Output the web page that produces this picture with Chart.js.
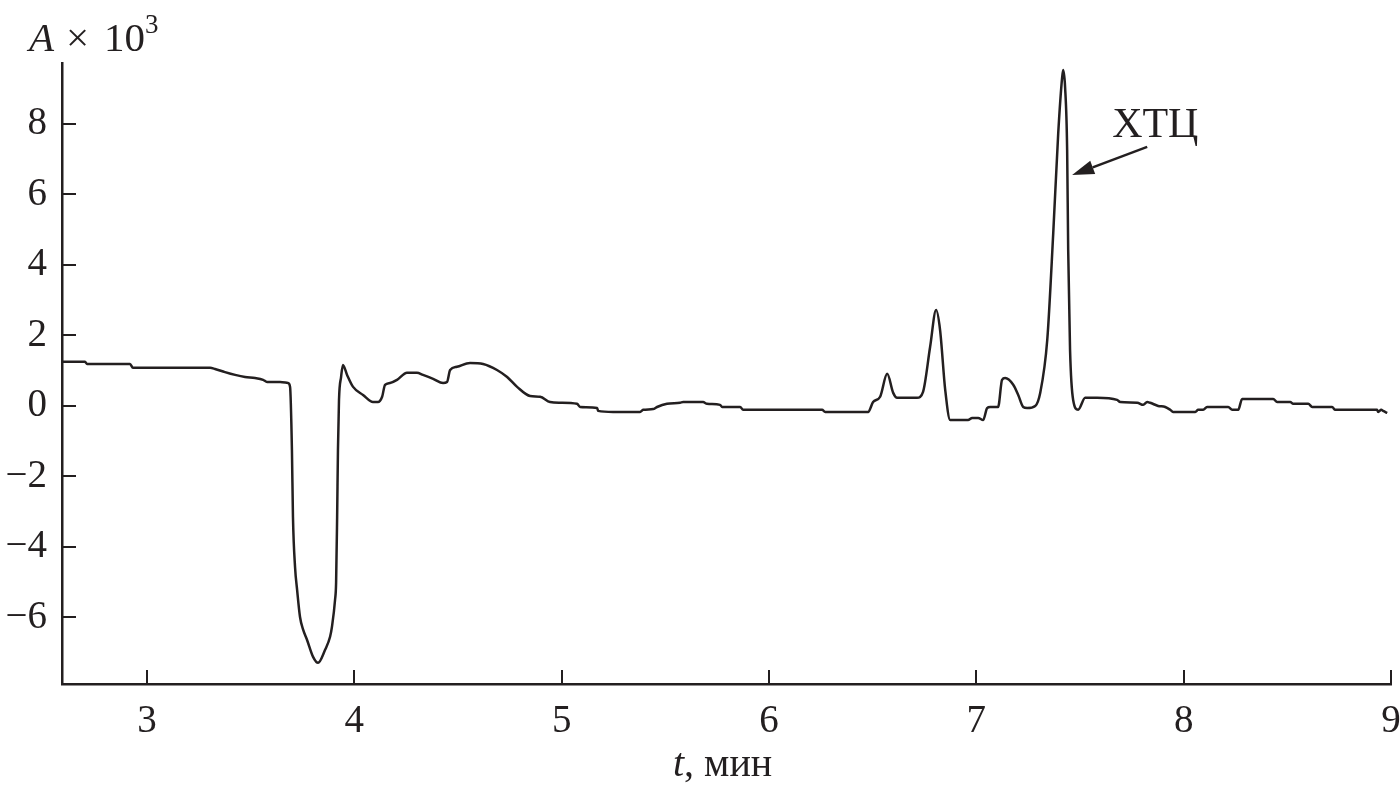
<!DOCTYPE html>
<html>
<head>
<meta charset="utf-8">
<script src="https://cdn.jsdelivr.net/npm/chart.js@4.4.1/dist/chart.umd.min.js"></script>
<style>
  html, body { margin: 0; padding: 0; background: #fff; }
  #wrap { width: 1400px; height: 791px; }
</style>
</head>
<body>
<div id="wrap"><canvas id="chart" width="1400" height="791"></canvas></div>
<script>
// retention time, min
const times = [
  2.590, 2.701, 2.711, 2.918, 2.932, 3.304, 3.328, 3.376, 3.425, 3.473, 3.521, 3.560, 3.579, 3.642, 3.680,
  3.690, 3.699, 3.704, 3.714, 3.724, 3.738, 3.753, 3.772, 3.801, 3.825, 3.859, 3.883, 3.892, 3.907, 3.912,
  3.917, 3.921, 3.926, 3.936,
  3.945, 3.965, 3.994, 4.042, 4.090, 4.114, 4.134, 4.148, 4.172, 4.206, 4.254, 4.302, 4.331, 4.380, 4.428,
  4.447, 4.462, 4.495, 4.558, 4.621, 4.688, 4.737, 4.785, 4.848, 4.896, 4.944, 4.992, 5.074, 5.089, 5.171,
  5.176, 5.248, 5.378, 5.393, 5.441, 5.460, 5.508, 5.571, 5.586, 5.682, 5.701, 5.764, 5.774, 5.861, 5.875,
  6.256, 6.271, 6.478, 6.502, 6.536, 6.570, 6.599, 6.618, 6.714, 6.743, 6.777, 6.806, 6.825, 6.850, 6.874,
  6.960, 6.980, 7.009, 7.033, 7.052, 7.067, 7.105, 7.124, 7.139, 7.178, 7.202, 7.226, 7.245, 7.284, 7.308,
  7.342, 7.371, 7.395, 7.414, 7.419, 7.428, 7.438, 7.443, 7.452, 7.467, 7.491, 7.525, 7.583, 7.679, 7.694,
  7.776, 7.805, 7.824, 7.838, 7.877, 7.911, 7.935, 7.949, 8.056, 8.070, 8.094, 8.113, 8.215, 8.234, 8.263,
  8.282, 8.432, 8.451, 8.514, 8.528, 8.601, 8.620, 8.716, 8.731, 8.933, 8.938, 8.953, 8.962, 8.982
];
// absorbance x 10^3
const absorb = [
  1.25, 1.25, 1.19, 1.19, 1.08, 1.08, 1.05, 0.96, 0.88, 0.82, 0.79, 0.74, 0.68, 0.68, 0.65,
  0.54, -1.25, -3.15, -4.57, -5.22, -5.99, -6.35, -6.64, -7.12, -7.29, -6.92, -6.55, -6.27, -5.50, -5.02,
  -3.15, -1.25, 0.17, 0.82,
  1.16, 0.88, 0.54, 0.31, 0.11, 0.11, 0.26, 0.60, 0.65, 0.74, 0.94, 0.94, 0.88, 0.77, 0.65,
  0.68, 1.02, 1.11, 1.22, 1.19, 1.02, 0.82, 0.54, 0.28, 0.26, 0.11, 0.09, 0.06, -0.03, -0.06,
  -0.14, -0.17, -0.17, -0.11, -0.09, -0.03, 0.06, 0.09, 0.11, 0.11, 0.06, 0.03, -0.03, -0.03, -0.11,
  -0.11, -0.17, -0.17, 0.11, 0.26, 0.91, 0.37, 0.23, 0.23, 0.40, 1.67, 2.72, 2.16, 0.45, -0.40,
  -0.40, -0.34, -0.34, -0.40, -0.06, -0.03, -0.03, 0.74, 0.79, 0.60, 0.31, -0.03, -0.06, 0.00, 0.37,
  1.87, 4.91, 7.74, 9.33, 9.53, 9.05, 7.26, 4.43, 1.59, 0.17, -0.11, 0.23, 0.23, 0.17, 0.11,
  0.09, 0.03, 0.11, 0.09, 0.00, -0.03, -0.11, -0.17, -0.17, -0.11, -0.11, -0.03, -0.03, -0.11, -0.11,
  0.20, 0.20, 0.11, 0.11, 0.06, 0.06, -0.03, -0.03, -0.11, -0.11, -0.17, -0.11, -0.14, -0.20
];

const xTicks = [3, 4, 5, 6, 7, 8, 9];
const yTicks = [-6, -4, -2, 0, 2, 4, 6, 8];

// peak label and arrow (data coords)
const peakLabel = 'ХТЦ';
const labelPos = [7.655, 7.63];
const arrowFrom = [7.824, 7.35];
const arrowTo = [7.462, 6.55];

const INK = '#231f20';
const SERIF = '"Liberation Serif", "Times New Roman", serif';

const points = times.map((t, i) => ({ x: t, y: absorb[i] }));

const decor = {
  id: 'decor',
  afterDraw(chart) {
    const ctx = chart.ctx;
    const xs = chart.scales.x, ys = chart.scales.y;
    const area = chart.chartArea;
    ctx.save();
    ctx.strokeStyle = INK;
    ctx.fillStyle = INK;
    ctx.lineWidth = 2;

    // inward ticks
    const tl = 14;
    xTicks.forEach(v => {
      const px = Math.round(xs.getPixelForValue(v));
      ctx.beginPath();
      ctx.moveTo(px, area.bottom);
      ctx.lineTo(px, area.bottom - tl);
      ctx.stroke();
    });
    yTicks.forEach(v => {
      const py = Math.round(ys.getPixelForValue(v));
      ctx.beginPath();
      ctx.moveTo(area.left, py);
      ctx.lineTo(area.left + tl, py);
      ctx.stroke();
    });

    // y title: A x 10^3
    ctx.textBaseline = 'alphabetic';
    ctx.textAlign = 'left';
    ctx.font = 'italic 41px ' + SERIF;
    ctx.fillText('A', 29, 51);
    ctx.font = '41px ' + SERIF;
    ctx.fillText('\u00d7', 66, 51);
    ctx.fillText('10', 104, 51);
    const w10 = ctx.measureText('10').width;
    ctx.font = '27px ' + SERIF;
    ctx.fillText('3', 104 + w10, 33);

    // x title: t, мин
    ctx.font = 'italic 40px ' + SERIF;
    ctx.fillText('t', 673, 776);
    const tw = ctx.measureText('t').width;
    ctx.font = '40px ' + SERIF;
    ctx.fillText(', мин', 673 + tw, 776);

    // peak label and arrow
    ctx.font = '42px ' + SERIF;
    ctx.fillText(peakLabel, xs.getPixelForValue(labelPos[0]), ys.getPixelForValue(labelPos[1]));
    const x1 = xs.getPixelForValue(arrowFrom[0]), y1 = ys.getPixelForValue(arrowFrom[1]);
    const x2 = xs.getPixelForValue(arrowTo[0]), y2 = ys.getPixelForValue(arrowTo[1]);
    const ang = Math.atan2(y2 - y1, x2 - x1);
    const hl = 22, hw = 7;
    const bx = x2 - hl * Math.cos(ang), by = y2 - hl * Math.sin(ang);
    ctx.lineWidth = 2.5;
    ctx.beginPath();
    ctx.moveTo(x1, y1);
    ctx.lineTo(bx, by);
    ctx.stroke();
    ctx.beginPath();
    ctx.moveTo(x2, y2);
    ctx.lineTo(bx + hw * Math.sin(ang), by - hw * Math.cos(ang));
    ctx.lineTo(bx - hw * Math.sin(ang), by + hw * Math.cos(ang));
    ctx.closePath();
    ctx.fill();
    ctx.restore();
  }
};

new Chart(document.getElementById('chart'), {
  type: 'scatter',
  data: {
    datasets: [{
      data: points,
      showLine: true,
      borderColor: INK,
      borderWidth: 2.5,
      pointRadius: 0,
      cubicInterpolationMode: 'monotone'
    }]
  },
  options: {
    responsive: false,
    animation: false,
    layout: { padding: { top: 63, right: 9, left: 0, bottom: 0 } },
    plugins: { legend: { display: false }, tooltip: { enabled: false } },
    scales: {
      x: {
        type: 'linear',
        min: 2.59,
        max: 9,
        afterBuildTicks: s => { s.ticks = xTicks.map(v => ({ value: v })); },
        afterFit: s => { s.height = 107; s.paddingLeft = 0; s.paddingRight = 0; },
        grid: { display: false, drawTicks: false },
        border: { display: true, color: INK, width: 2.5 },
        ticks: { color: INK, padding: 14, maxRotation: 0, font: { family: SERIF, size: 39 } }
      },
      y: {
        min: -7.89,
        max: 9.73,
        afterBuildTicks: s => { s.ticks = yTicks.map(v => ({ value: v })); },
        afterFit: s => { s.width = 62; s.paddingTop = 0; s.paddingBottom = 0; },
        grid: { display: false, drawTicks: false },
        border: { display: true, color: INK, width: 2.5 },
        ticks: {
          color: INK, padding: 15, font: { family: SERIF, size: 39 },
          callback: v => (v < 0 ? '\u2212' + Math.abs(v) : String(v))
        }
      }
    }
  },
  plugins: [decor]
});
</script>
</body>
</html>
